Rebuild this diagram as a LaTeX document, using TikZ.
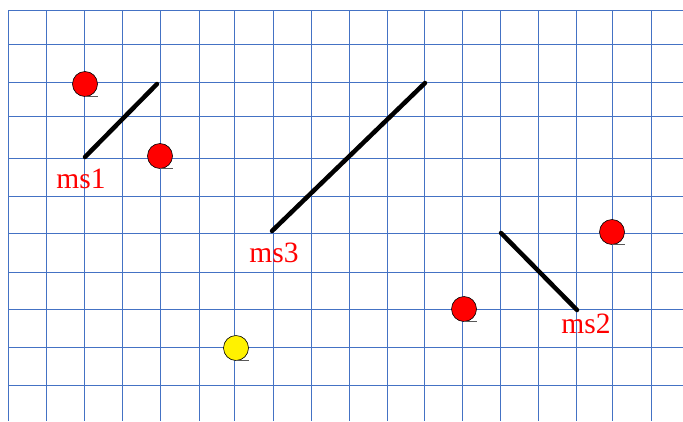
\documentclass[tikz,border=0pt]{standalone}
\usepackage{fontspec}
\setmainfont{Liberation Serif}
\usepackage{xcolor}
\usepackage{tikz}

\definecolor{gridblue}{RGB}{68,114,196}

\begin{document}
\begin{tikzpicture}[x=1pt, y=-1pt,
    gridline/.style={gridblue, line width=0.9pt},
    segment/.style={line width=4.5pt, line cap=round},
    dot/.style={circle, draw=black, line width=0.6pt, minimum size=25pt, inner sep=0pt},
    underl/.style={gray!70!black, line width=0.8pt},
    mslabel/.style={red, anchor=base, inner sep=0pt, font=\fontsize{29.5}{32}\selectfont}]

    \useasboundingbox (0,0) rectangle (683,421);

    % Grid
    \foreach \x in {8,46,84,122,160,199,234,273,311,349,387,424,462,500,538,576,612,651}
    {
        \draw[gridline] (\x,10) -- (\x,421);
    }
    \foreach \y in {10,44,82,116,158,196,233,272,309,347,385}
    {
        \draw[gridline] (8,\y) -- (683,\y);
    }

    % Segments
    \coordinate (ms1a) at (85,157);
    \coordinate (ms1b) at (157,84);
    \coordinate (ms3a) at (272,231);
    \coordinate (ms3b) at (425,83);
    \coordinate (ms2a) at (501,233);
    \coordinate (ms2b) at (577,310);
    \draw[segment] (ms1a) -- (ms1b);
    \draw[segment] (ms3a) -- (ms3b);
    \draw[segment] (ms2a) -- (ms2b);

    % Labels
    \node[mslabel] (ms1) at (81,188) {ms1};
    \node[mslabel] (ms3) at (274,262) {ms3};
    \node[mslabel] (ms2) at (586,333) {ms2};

    % Dots
    \foreach \n/\x/\y/\c in {
        r1/85/84/red,
        r2/160/156/red,
        r3/464/309/red,
        r4/612/232/red,
        y1/236/348/yellow}
    {
        \node[dot, fill=\c] (\n) at (\x,\y) {};
        \draw[underl] (\n.south) -- ++(13,0);
    }

\end{tikzpicture}
\end{document}
